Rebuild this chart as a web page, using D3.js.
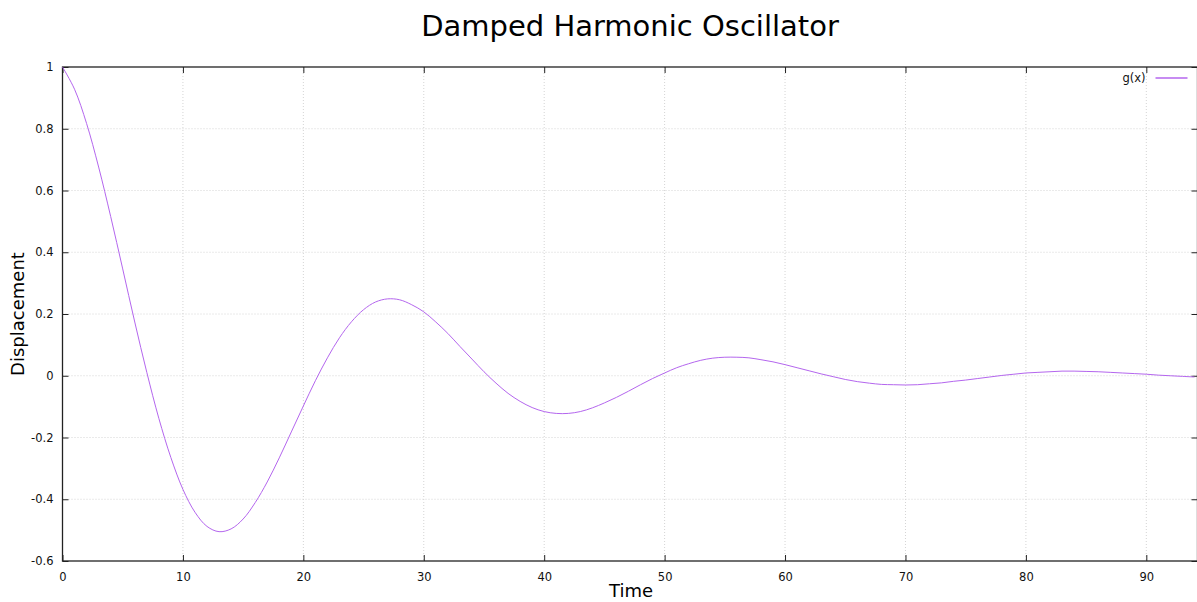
<!DOCTYPE html>
<html>
<head>
<meta charset="utf-8">
<script src="https://cdn.jsdelivr.net/npm/d3@7"></script>
<style>
  body { margin: 0; background: #fff; }
  svg { display: block; font-family: "DejaVu Sans", sans-serif; }
</style>
</head>
<body>
<script>
// time samples and displacement
var times = d3.range(0, 95);
var displacement = [
  1.000, 0.928, 0.817, 0.676, 0.516, 0.346, 0.174, 0.011, -0.138, -0.265,
  -0.368, -0.442, -0.488, -0.505, -0.496, -0.464, -0.411, -0.344, -0.266, -0.182,
  -0.098, -0.016, 0.058, 0.123, 0.175, 0.214, 0.239, 0.249, 0.246, 0.230,
  0.207, 0.174, 0.137, 0.095, 0.054, 0.013, -0.024, -0.057, -0.083, -0.103,
  -0.116, -0.122, -0.122, -0.116, -0.104, -0.088, -0.070, -0.050, -0.029, -0.009,
  0.009, 0.026, 0.039, 0.050, 0.057, 0.060, 0.060, 0.058, 0.052, 0.045,
  0.036, 0.026, 0.016, 0.006, -0.003, -0.012, -0.019, -0.024, -0.028, -0.029,
  -0.030, -0.029, -0.026, -0.023, -0.018, -0.014, -0.009, -0.004, 0.001, 0.005,
  0.009, 0.011, 0.013, 0.015, 0.015, 0.014, 0.013, 0.011, 0.009, 0.007,
  0.005, 0.002, 0.000, -0.002, -0.004
];
var xTicks = [0, 10, 20, 30, 40, 50, 60, 70, 80, 90];
var yTicks = [-0.6, -0.4, -0.2, 0, 0.2, 0.4, 0.6, 0.8, 1];
var xDomain = [0, 94.25];
var yDomain = [-0.6, 1];

var data = times.map((t, i) => ({t: t, v: displacement[i]}));

var W = 1197, H = 602;
var margin = {top: 67, right: 0, bottom: 41, left: 62.5};
var width = 1135,
    height = H - margin.top - margin.bottom;

var svg = d3.select("body").append("svg")
    .attr("width", W)
    .attr("height", H);

var g = svg.append("g")
    .attr("transform", "translate(" + margin.left + "," + margin.top + ")");

var x = d3.scaleLinear().domain(xDomain).range([0, width]);
var y = d3.scaleLinear().domain(yDomain).range([height, 0]);

// dotted grid
g.append("g").selectAll("line")
    .data(xTicks.filter(d => d > 0))
  .enter().append("line")
    .attr("x1", d => x(d)).attr("x2", d => x(d))
    .attr("y1", 0).attr("y2", height)
    .attr("stroke", "#d4d4d4")
    .attr("stroke-dasharray", "1,2");
g.append("g").selectAll("line")
    .data(yTicks.filter(d => d > -0.6 && d < 1))
  .enter().append("line")
    .attr("x1", 0).attr("x2", width)
    .attr("y1", d => y(d)).attr("y2", d => y(d))
    .attr("stroke", "#d4d4d4")
    .attr("stroke-dasharray", "1,2");

// axes, ticks pointing inward
var fmt = d => String(+d.toFixed(1));
var bottomAxis = g.append("g")
    .attr("transform", "translate(0," + height + ")")
    .call(d3.axisBottom(x).tickValues(xTicks).tickSizeInner(-6).tickSizeOuter(0).tickPadding(12).tickFormat(fmt));
var leftAxis = g.append("g")
    .call(d3.axisLeft(y).tickValues(yTicks).tickSizeInner(-6).tickSizeOuter(0).tickPadding(12).tickFormat(fmt));
var topAxis = g.append("g")
    .call(d3.axisTop(x).tickValues(xTicks).tickSizeInner(-6).tickSizeOuter(0).tickFormat(""));
var rightAxis = g.append("g")
    .attr("transform", "translate(" + width + ",0)")
    .call(d3.axisRight(y).tickValues(yTicks).tickSizeInner(-6).tickSizeOuter(0).tickFormat(""));

[bottomAxis, leftAxis, topAxis, rightAxis].forEach(a => {
  a.select(".domain").remove();
  a.selectAll(".tick line").attr("stroke", "#222");
  a.selectAll("text").attr("font-size", 11.5).attr("fill", "#111").attr("font-family", "DejaVu Sans, sans-serif");
});
leftAxis.selectAll("text").attr("dx", "3");

// border
g.append("rect")
    .attr("width", width).attr("height", height)
    .attr("fill", "none")
    .attr("stroke", "#222")
    .attr("stroke-width", 1.3);

// the curve
var line = d3.line()
    .x(d => x(d.t))
    .y(d => y(d.v))
    .curve(d3.curveCatmullRom);

g.append("path")
    .datum(data)
    .attr("fill", "none")
    .attr("stroke", "#b466ee")
    .attr("stroke-width", 1)
    .attr("d", line);

// legend
var legend = g.append("g").attr("transform", "translate(" + (width - 50) + ",11)");
legend.append("text")
    .attr("x", -2).attr("y", 4)
    .attr("text-anchor", "end")
    .attr("font-size", 11.5)
    .attr("fill", "#111")
    .text("g(x)");
legend.append("line")
    .attr("x1", 8).attr("x2", 40)
    .attr("y1", 0).attr("y2", 0)
    .attr("stroke", "#b466ee")
    .attr("stroke-width", 1.5);

// title and axis labels
svg.append("text")
    .attr("x", 630).attr("y", 36)
    .attr("text-anchor", "middle")
    .attr("font-size", 29)
    .attr("fill", "#000")
    .text("Damped Harmonic Oscillator");

svg.append("text")
    .attr("x", 631).attr("y", 597)
    .attr("text-anchor", "middle")
    .attr("font-size", 18)
    .attr("fill", "#000")
    .text("Time");

svg.append("text")
    .attr("transform", "translate(24," + (margin.top + y(0.2)) + ") rotate(-90)")
    .attr("text-anchor", "middle")
    .attr("font-size", 18)
    .attr("fill", "#000")
    .text("Displacement");
</script>
</body>
</html>
